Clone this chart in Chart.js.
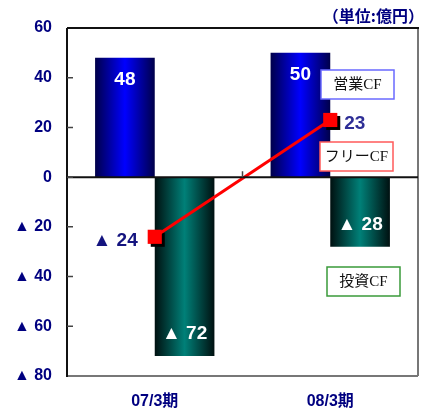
<!DOCTYPE html>
<html>
<head>
<meta charset="utf-8">
<script src="https://cdn.jsdelivr.net/npm/chart.js@4"></script>
<style>
  html, body { margin: 0; padding: 0; background: #fff; overflow: hidden; }
  canvas { display: block; }
</style>
</head>
<body>
<canvas id="cfChart" width="422" height="410"></canvas>
<script>
// Data
const periods = ['07/3期', '08/3期'];
const operatingCF = [48, 50];
const investingCF = [-72, -28];
const freeCF = [-24, 23];
const seriesNames = ['営業CF', '投資CF', 'フリーCF'];
const yMin = -80, yMax = 60, yStep = 20;
const unitText = '（単位:億円）';

const NAVY = '#000080';
const CAT_PCT = 0.68;

function fmt(v) {
  return v < 0 ? '▲ ' + Math.abs(v) : String(v);
}

// horizontal gradient across a bar (dark edges, bright middle)
function barGradient(ctx, side, edge, mid) {
  const chart = ctx.chart;
  const x = chart.scales.x;
  if (!x || ctx.dataIndex === undefined || !chart.chartArea) return mid;
  const c = x.getPixelForValue(ctx.dataIndex);
  const cw = Math.abs(x.getPixelForValue(1) - x.getPixelForValue(0));
  const bw = cw * CAT_PCT / 2;
  const x0 = side === 0 ? c - bw : c;
  const g = chart.ctx.createLinearGradient(x0, 0, x0 + bw, 0);
  g.addColorStop(0, edge);
  g.addColorStop(0.5, mid);
  g.addColorStop(1, edge);
  return g;
}

const decorPlugin = {
  id: 'decor',
  beforeDatasetDraw(chart, args) {
    // drop shadow under the free CF markers
    if (args.meta.type !== 'line') return;
    const ctx = chart.ctx;
    ctx.save();
    ctx.fillStyle = '#000';
    args.meta.data.forEach(p => {
      ctx.fillRect(p.x - 7 + 3, p.y - 7 + 3, 14, 14);
    });
    ctx.restore();
  },
  afterDatasetsDraw(chart) {
    const ctx = chart.ctx;
    const a = chart.chartArea;
    const y = chart.scales.y;
    const x = chart.scales.x;
    ctx.save();

    // frame
    ctx.lineWidth = 2;
    ctx.strokeStyle = '#777';
    ctx.beginPath();
    ctx.moveTo(a.right, a.top); ctx.lineTo(a.right, a.bottom);
    ctx.moveTo(a.left, a.bottom); ctx.lineTo(a.right, a.bottom);
    ctx.stroke();
    ctx.strokeStyle = '#111';
    ctx.beginPath();
    ctx.moveTo(a.left, a.top); ctx.lineTo(a.right + 1, a.top);
    ctx.moveTo(a.left, a.top); ctx.lineTo(a.left, a.bottom + 1);
    ctx.stroke();

    // zero line
    const y0 = y.getPixelForValue(0);
    ctx.beginPath();
    ctx.moveTo(a.left, y0); ctx.lineTo(a.right, y0);
    ctx.stroke();

    // inner tick marks
    ctx.lineWidth = 1.5;
    ctx.strokeStyle = '#444';
    ctx.beginPath();
    for (let v = yMin + yStep; v < yMax; v += yStep) {
      const py = y.getPixelForValue(v);
      ctx.moveTo(a.left, py); ctx.lineTo(a.left + 6, py);
    }
    const mx = (x.getPixelForValue(0) + x.getPixelForValue(1)) / 2;
    ctx.moveTo(mx, y0); ctx.lineTo(mx, y0 - 6);
    ctx.stroke();

    // bar value labels
    ctx.font = 'bold 19px "Liberation Sans Narrow", "Liberation Sans", Arial, sans-serif';
    ctx.textAlign = 'center';
    ctx.textBaseline = 'middle';
    ctx.fillStyle = '#fff';
    const opMeta = chart.getDatasetMeta(1);
    opMeta.data.forEach((bar, i) => {
      ctx.fillText(fmt(operatingCF[i]), bar.x, bar.y + 22);
    });
    const invMeta = chart.getDatasetMeta(2);
    invMeta.data.forEach((bar, i) => {
      ctx.fillText(fmt(investingCF[i]), bar.x, bar.y - 22);
    });

    // free CF labels
    const lineMeta = chart.getDatasetMeta(0);
    lineMeta.data.forEach((p, i) => {
      const v = freeCF[i];
      if (v < 0) {
        ctx.fillStyle = '#14147f';
        ctx.textAlign = 'right';
        ctx.fillText(fmt(v), p.x - 17, p.y + 4);
      } else {
        ctx.fillStyle = '#2e2e96';
        ctx.textAlign = 'left';
        ctx.fillText(fmt(v), p.x + 14, p.y + 4);
      }
    });

    // legend boxes
    const boxes = [
      { text: seriesNames[0], color: '#6a6aff', x: 321, y: 70 },
      { text: seriesNames[2], color: '#ff5a5a', x: 320, y: 142 },
      { text: seriesNames[1], color: '#3a9a3a', x: 327, y: 267 }
    ];
    ctx.font = '15px "Liberation Serif", "Noto Sans CJK JP", serif';
    ctx.textAlign = 'center';
    ctx.textBaseline = 'middle';
    boxes.forEach(b => {
      ctx.fillStyle = '#fff';
      ctx.fillRect(b.x, b.y, 73, 29);
      ctx.lineWidth = 1.5;
      ctx.strokeStyle = b.color;
      ctx.strokeRect(b.x, b.y, 73, 29);
      ctx.fillStyle = '#111';
      ctx.fillText(b.text, b.x + 36.5, b.y + 15.5);
    });

    // unit
    ctx.font = 'bold 16px "Noto Sans CJK JP", sans-serif';
    ctx.fillStyle = NAVY;
    ctx.textAlign = 'right';
    ctx.fillText(unitText, 424, 16);

    ctx.restore();
  }
};

new Chart(document.getElementById('cfChart'), {
  data: {
    labels: periods,
    datasets: [
      {
        type: 'line',
        label: seriesNames[2],
        data: freeCF,
        order: 0,
        borderColor: '#ff0000',
        borderWidth: 3,
        pointStyle: 'rect',
        pointRadius: 10,
        pointHoverRadius: 10,
        pointBackgroundColor: '#ff0000',
        pointBorderColor: '#ff0000',
        pointBorderWidth: 0,
        tension: 0
      },
      {
        type: 'bar',
        label: seriesNames[0],
        data: operatingCF,
        order: 1,
        backgroundColor: ctx => barGradient(ctx, 0, '#00004a', '#0000ff'),
        borderWidth: 0,
        barPercentage: 1,
        categoryPercentage: CAT_PCT
      },
      {
        type: 'bar',
        label: seriesNames[1],
        data: investingCF,
        order: 1,
        backgroundColor: ctx => barGradient(ctx, 1, '#001010', '#008078'),
        borderWidth: 0,
        barPercentage: 1,
        categoryPercentage: CAT_PCT
      }
    ]
  },
  options: {
    responsive: false,
    animation: false,
    layout: { autoPadding: false, padding: { top: 28, right: 4, left: 0, bottom: 0 } },
    plugins: {
      legend: { display: false },
      tooltip: { enabled: false }
    },
    scales: {
      x: {
        grid: { display: false },
        border: { display: false },
        ticks: {
          color: NAVY,
          padding: 8,
          font: { family: '"Liberation Sans", "Noto Sans CJK JP", sans-serif', size: 16, weight: 'bold' }
        },
        afterFit: s => { s.height = 34; s.paddingLeft = 0; s.paddingRight = 0; }
      },
      y: {
        min: yMin,
        max: yMax,
        grid: { display: false, drawTicks: false },
        border: { display: false },
        ticks: {
          stepSize: yStep,
          color: NAVY,
          padding: 15,
          font: { family: '"Liberation Sans", Arial, sans-serif', size: 16, weight: 'bold' },
          callback: v => fmt(v)
        },
        afterFit: s => { s.width = 67; }
      }
    }
  },
  plugins: [decorPlugin]
});
</script>
</body>
</html>
